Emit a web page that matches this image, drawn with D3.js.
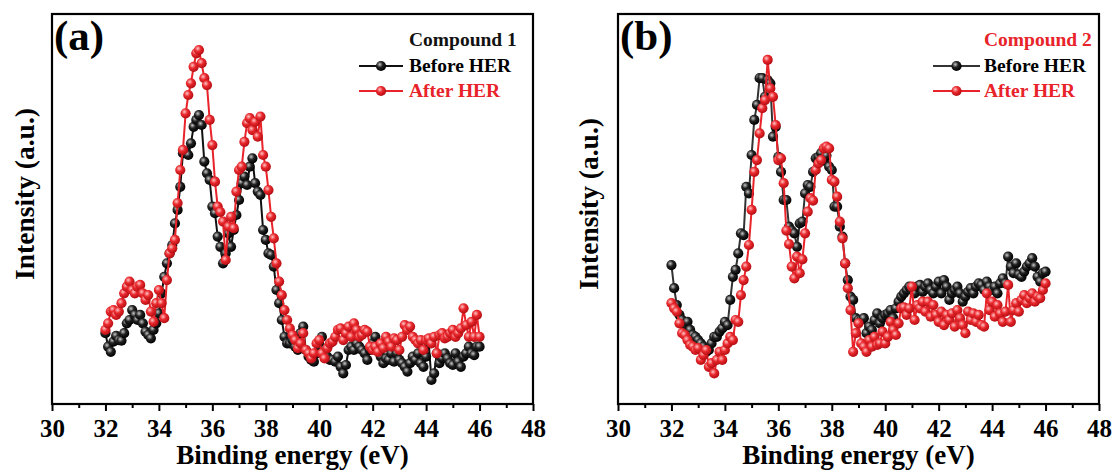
<!DOCTYPE html>
<html>
<head>
<meta charset="utf-8">
<script src="https://cdn.jsdelivr.net/npm/d3@7"></script>
<style>
  html, body { margin: 0; padding: 0; background: #fff; }
  svg { display: block; }
  text { font-family: "Liberation Serif", "Times New Roman", serif; font-weight: bold; }
</style>
</head>
<body>
<svg id="chart" width="1115" height="471"></svg>
<script>
// Binding energy grid (eV), 0.1 eV steps from 32 to 46
const energy = d3.range(141).map(i => +(32 + i * 0.1).toFixed(1));

// Compound 1 XPS intensities (a.u.)
const c1Before = [
  23.6, 19.1, 17.4, 20.8, 22.7, 21.3, 21.1, 23.6, 26.9, 28.0,
  31.3, 29.7, 28.0, 29.7, 26.9, 24.1, 23.0, 21.9, 24.7, 26.9,
  30.2, 36.9, 42.4, 46.9, 50.2, 53.0, 60.2, 64.7, 72.4, 83.6,
  84.1, 83.0, 86.9, 92.4, 94.7, 96.3, 93.0, 80.8, 76.9, 74.7,
  65.8, 63.6, 55.8, 52.4, 46.9, 50.2, 56.9, 52.4, 58.0, 63.0,
  68.0, 73.6, 75.8, 73.0, 79.1, 81.9, 73.6, 70.8, 69.7, 58.0,
  54.7, 50.2, 49.7, 45.8, 38.0, 33.6, 28.0, 22.4, 20.2, 20.2,
  21.3, 19.1, 18.0, 23.6, 25.8, 18.0, 15.8, 14.7, 14.1, 16.9,
  19.1, 22.4, 18.0, 15.8, 14.7, 14.7, 14.1, 15.8, 12.4, 10.2,
  13.0, 18.0, 19.1, 18.0, 20.2, 19.1, 18.0, 16.9, 14.7, 18.0,
  20.2, 22.4, 18.0, 15.8, 13.6, 15.2, 14.7, 16.9, 14.1, 16.9,
  14.7, 13.6, 12.4, 10.8, 13.6, 15.8, 14.7, 16.9, 13.6, 12.4,
  15.8, 20.2, 8.0, 10.2, 16.9, 13.6, 15.2, 16.9, 15.2, 13.6,
  13.0, 16.9, 14.1, 12.4, 15.8, 16.9, 19.1, 16.9, 16.3, 19.1,
  19.1
];
const c1After = [
  24.7, 26.9, 30.8, 31.3, 29.7, 30.8, 33.6, 36.9, 39.1, 40.8,
  38.0, 36.9, 39.1, 39.7, 36.9, 34.7, 36.3, 30.8, 27.4, 33.6,
  38.0, 33.6, 28.6, 41.3, 50.2, 51.9, 54.7, 67.0, 78.0, 84.7,
  96.9, 103.0, 106.9, 112.4, 116.9, 118.0, 113.6, 108.6, 106.3, 94.7,
  86.3, 74.1, 65.8, 64.0, 60.8, 48.0, 59.1, 62.4, 58.6, 70.8,
  78.0, 79.1, 87.4, 93.6, 95.3, 91.3, 94.0, 89.1, 95.8, 83.0,
  79.1, 71.3, 62.4, 55.2, 46.9, 40.8, 36.3, 31.3, 28.0, 25.2,
  23.0, 21.3, 18.6, 20.2, 23.6, 18.0, 16.9, 15.2, 16.9, 20.2,
  21.3, 16.9, 15.2, 18.6, 20.2, 20.8, 22.4, 24.7, 25.2, 21.3,
  23.6, 25.8, 22.4, 26.9, 24.7, 22.4, 23.0, 24.7, 24.1, 19.1,
  18.0, 19.1, 17.4, 20.2, 18.6, 22.4, 20.8, 19.1, 21.9, 21.3,
  18.0, 22.4, 26.3, 24.7, 25.8, 22.4, 21.3, 20.2, 21.3, 18.0,
  21.3, 21.9, 20.2, 22.4, 16.9, 23.0, 23.6, 21.9, 22.4, 23.6,
  24.7, 22.4, 23.6, 25.2, 31.9, 26.3, 22.4, 27.4, 22.4, 29.7,
  22.4
];

// Compound 2 XPS intensities (a.u.)
const c2Before = [
  46.3, 38.6, 33.0, 29.7, 28.0, 26.3, 27.4, 24.7, 23.0, 22.4,
  21.3, 20.2, 19.1, 17.4, 18.0, 20.2, 22.4, 22.4, 24.1, 25.2,
  27.4, 26.3, 34.7, 42.4, 44.7, 50.2, 56.9, 56.3, 72.4, 70.2,
  83.0, 94.7, 99.7, 108.6, 108.6, 102.4, 108.0, 106.9, 89.1, 92.4,
  82.4, 77.4, 68.0, 68.0, 59.1, 57.8, 56.9, 52.4, 60.2, 60.8,
  70.2, 73.0, 72.4, 77.4, 81.9, 82.4, 83.6, 81.1, 82.8, 79.1,
  78.0, 65.8, 65.8, 59.1, 55.8, 46.9, 41.3, 35.8, 34.7, 28.6,
  28.0, 28.0, 28.6, 23.6, 25.8, 24.7, 28.0, 30.2, 26.9, 28.6,
  29.7, 30.2, 31.3, 28.6, 31.9, 34.1, 35.8, 36.9, 38.0, 39.1,
  38.0, 36.9, 39.1, 39.7, 37.4, 39.1, 40.2, 38.0, 36.9, 39.1,
  40.8, 36.9, 41.3, 39.1, 34.7, 36.9, 38.0, 39.1, 36.9, 34.1,
  35.8, 37.4, 38.6, 36.9, 39.1, 40.2, 39.7, 38.0, 40.8, 39.1,
  38.0, 39.1, 36.9, 40.2, 41.9, 40.2, 49.1, 45.8, 43.6, 46.9,
  43.1, 42.4, 44.1, 45.8, 46.9, 48.6, 45.8, 42.4, 40.8, 43.6,
  44.1
];
const c2After = [
  33.6, 31.9, 30.8, 26.9, 23.6, 23.0, 21.3, 19.7, 19.1, 18.0,
  18.6, 14.7, 16.3, 18.0, 12.4, 13.6, 10.2, 14.7, 17.4, 14.7,
  18.0, 20.2, 22.4, 21.3, 28.0, 27.4, 36.3, 41.3, 45.8, 53.0,
  64.7, 77.4, 81.3, 90.2, 98.6, 101.3, 114.7, 105.2, 102.4, 93.0,
  81.3, 81.9, 73.6, 57.8, 53.3, 45.8, 41.9, 49.1, 43.6, 48.2,
  56.9, 64.1, 68.6, 67.8, 78.0, 80.2, 81.3, 85.2, 85.8, 85.2,
  74.7, 74.1, 69.1, 60.8, 55.2, 46.9, 38.6, 31.3, 17.4, 23.6,
  26.9, 20.2, 19.1, 17.4, 21.3, 19.1, 22.4, 19.7, 20.2, 24.1,
  20.2, 22.4, 27.4, 24.7, 23.0, 26.9, 31.9, 32.2, 29.7, 31.9,
  39.1, 28.0, 33.0, 31.9, 34.1, 30.8, 34.1, 29.1, 33.0, 29.7,
  27.4, 30.8, 26.3, 29.7, 28.0, 30.2, 25.8, 31.3, 28.6, 26.3,
  23.6, 30.8, 28.0, 30.2, 27.4, 29.7, 26.3, 25.8, 36.9, 31.3,
  34.1, 29.1, 33.0, 30.2, 27.4, 30.8, 39.7, 27.4, 31.3, 33.6,
  30.8, 34.7, 36.3, 33.6, 35.3, 36.9, 34.1, 35.8, 35.3, 38.0,
  40.2
];

// Axis ticks and labels
const xMajorTicks = [30, 32, 34, 36, 38, 40, 42, 44, 46, 48];
const xMinorTicks = [31, 33, 35, 37, 39, 41, 43, 45, 47];
const xDomain = [30, 48];
const yDomain = [0, 130];
const seriesNames = ["Before HER", "After HER"];
const panelLetters = ["(a)", "(b)"];
const compoundNames = ["Compound 1", "Compound 2"];
const xTitle = "Binding energy (eV)";
const yTitle = "Intensity (a.u.)";

const RED = "#e8232a";
const BLACK = "#111";

const panels = [
  { left: 52, right: 533, letter: panelLetters[0], name: compoundNames[0], nameColor: BLACK,
    series: [c1Before, c1After], lineColors: ["#111", RED],
    legendText: 409, legendLine: [359, 403], yTitleX: 34, yTitleY: 194 },
  { left: 618, right: 1099, letter: panelLetters[1], name: compoundNames[1], nameColor: RED,
    series: [c2Before, c2After], lineColors: ["#333", RED],
    legendText: 984, legendLine: [933, 980], yTitleX: 598, yTitleY: 204 }
];
const plotTop = 14, plotBottom = 404;

const svg = d3.select("#chart");

// Shaded sphere markers
const defs = svg.append("defs");
function ballGradient(id, hi, mid, dark) {
  const g = defs.append("radialGradient").attr("id", id)
    .attr("cx", "38%").attr("cy", "35%").attr("r", "65%");
  g.append("stop").attr("offset", "0%").attr("stop-color", hi);
  g.append("stop").attr("offset", "45%").attr("stop-color", mid);
  g.append("stop").attr("offset", "100%").attr("stop-color", dark);
}
ballGradient("ballBlack", "#c8c8c8", "#222", "#000");
ballGradient("ballRed", "#ffc4c4", "#ea2a2f", "#b50d12");
const ballFill = ["url(#ballBlack)", "url(#ballRed)"];
const R = 5.1;

panels.forEach(p => {
  const x = d3.scaleLinear().domain(xDomain).range([p.left, p.right]);
  const y = d3.scaleLinear().domain(yDomain).range([plotBottom, plotTop]);
  const g = svg.append("g");

  // Series: lines with ball markers
  p.series.forEach((vals, si) => {
    const pts = energy.map((e, i) => [e, vals[i]]);
    const line = d3.line().x(d => x(d[0])).y(d => y(d[1]));
    g.append("path").datum(pts)
      .attr("d", line).attr("fill", "none")
      .attr("stroke", p.lineColors[si]).attr("stroke-width", 2);
    g.append("g").selectAll("circle").data(pts).join("circle")
      .attr("cx", d => x(d[0])).attr("cy", d => y(d[1])).attr("r", R)
      .attr("fill", ballFill[si]);
  });

  // Frame
  g.append("rect")
    .attr("x", p.left).attr("y", plotTop)
    .attr("width", p.right - p.left).attr("height", plotBottom - plotTop)
    .attr("fill", "none").attr("stroke", "#000").attr("stroke-width", 2.2);

  // X axis: major ticks with labels, minor ticks without
  const axMajor = g.append("g").attr("transform", `translate(0,${plotBottom})`)
    .call(d3.axisBottom(x).tickValues(xMajorTicks).tickSize(7).tickPadding(8).tickFormat(d3.format("d")));
  axMajor.select(".domain").remove();
  axMajor.selectAll(".tick line").attr("stroke", "#000").attr("stroke-width", 2);
  axMajor.selectAll(".tick text")
    .attr("font-family", "'Liberation Serif', serif").attr("font-weight", "bold")
    .attr("font-size", 25).attr("fill", "#000");
  const axMinor = g.append("g").attr("transform", `translate(0,${plotBottom})`)
    .call(d3.axisBottom(x).tickValues(xMinorTicks).tickSize(4).tickFormat(""));
  axMinor.select(".domain").remove();
  axMinor.selectAll(".tick line").attr("stroke", "#000").attr("stroke-width", 2);

  // Axis titles
  g.append("text")
    .attr("x", (p.left + p.right) / 2).attr("y", 464)
    .attr("text-anchor", "middle").attr("font-size", 27).attr("fill", "#000")
    .text(xTitle);
  g.append("text")
    .attr("transform", `translate(${p.yTitleX},${p.yTitleY}) rotate(-90)`)
    .attr("text-anchor", "middle").attr("font-size", 27.5).attr("fill", "#000")
    .text(yTitle);

  // Panel letter
  g.append("text")
    .attr("x", p.left + 2).attr("y", 50)
    .attr("font-size", 43).attr("fill", "#000")
    .text(p.letter);

  // Legend
  const lg = g.append("g");
  lg.append("text").attr("x", p.legendText).attr("y", 46)
    .attr("font-size", 19.5).attr("fill", p.nameColor).text(p.name);
  seriesNames.forEach((nm, si) => {
    const by = 72 + si * 25;
    const cy = by - 6;
    lg.append("line")
      .attr("x1", p.legendLine[0]).attr("x2", p.legendLine[1])
      .attr("y1", cy).attr("y2", cy)
      .attr("stroke", p.lineColors[si]).attr("stroke-width", 2);
    lg.append("circle")
      .attr("cx", (p.legendLine[0] + p.legendLine[1]) / 2).attr("cy", cy).attr("r", R)
      .attr("fill", ballFill[si]);
    lg.append("text").attr("x", p.legendText).attr("y", by)
      .attr("font-size", 19.5).attr("fill", si === 0 ? "#000" : RED).text(nm);
  });
});
</script>
</body>
</html>
